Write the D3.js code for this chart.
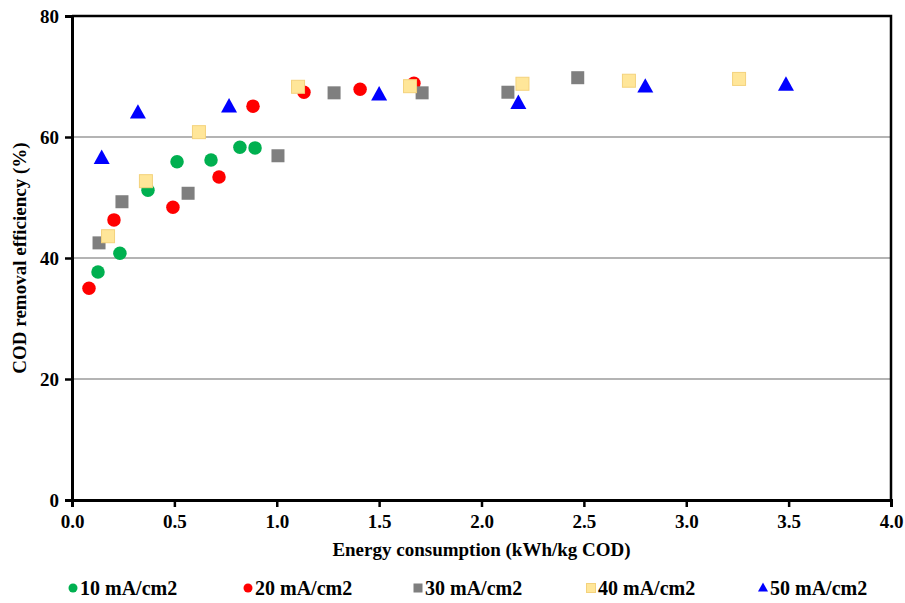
<!DOCTYPE html>
<html>
<head>
<meta charset="utf-8">
<script src="https://cdnjs.cloudflare.com/ajax/libs/d3/7.8.5/d3.min.js"></script>
<style>
  body { margin: 0; background: #fff; }
  text { font-family: "Liberation Serif", "Times New Roman", serif; font-weight: bold; fill: #000; }
</style>
</head>
<body>
<div id="chart"></div>
<script>
// Series data [energy kWh/kg COD, COD removal %]
var s10 = [[0.127, 37.7], [0.234, 40.8], [0.371, 51.2], [0.513, 55.9], [0.679, 56.2], [0.82, 58.3], [0.894, 58.2]];
var s20 = [[0.083, 35.0], [0.205, 46.3], [0.493, 48.4], [0.718, 53.4], [0.884, 65.1], [1.133, 67.4], [1.407, 67.9], [1.67, 68.9]];
var s30 = [[0.132, 42.5], [0.244, 49.3], [0.567, 50.7], [1.006, 56.9], [1.28, 67.3], [1.71, 67.3], [2.129, 67.4], [2.47, 69.8]];
var s40 = [[0.176, 43.6], [0.361, 52.7], [0.62, 60.8], [1.104, 68.3], [1.651, 68.4], [2.2, 68.8], [2.72, 69.3], [3.258, 69.6]];
var s50 = [[0.145, 56.5], [0.322, 64.0], [0.767, 65.0], [1.5, 67.0], [2.18, 65.6], [2.80, 68.3], [3.487, 68.6]];

var seriesNames = ['10 mA/cm2', '20 mA/cm2', '30 mA/cm2', '40 mA/cm2', '50 mA/cm2'];
var xTicks = [0, 0.5, 1, 1.5, 2, 2.5, 3, 3.5, 4];
var yTicks = [0, 20, 40, 60, 80];

var series = [
  { name: seriesNames[0], data: s10, shape: 'circle', fill: '#00b050', stroke: 'none' },
  { name: seriesNames[1], data: s20, shape: 'circle', fill: '#ff0000', stroke: 'none' },
  { name: seriesNames[2], data: s30, shape: 'square', fill: '#7f7f7f', stroke: 'none' },
  { name: seriesNames[3], data: s40, shape: 'square', fill: '#ffe699', stroke: '#f4d27c' },
  { name: seriesNames[4], data: s50, shape: 'triangle', fill: '#0000ff', stroke: 'none' }
];

var width = 905, height = 603;
var mLeft = 72, mRight = 891, mTop = 16, mBottom = 500;

var svg = d3.select('#chart').append('svg')
  .attr('width', width)
  .attr('height', height);

var x = d3.scaleLinear().domain([0, 4]).range([mLeft, mRight]);
var y = d3.scaleLinear().domain([0, 80]).range([mBottom, mTop]);

// gridlines
svg.append('g').selectAll('line')
  .data(yTicks.filter(function (d) { return d > 0 && d < 80; }))
  .enter().append('line')
  .attr('x1', mLeft).attr('x2', mRight)
  .attr('y1', function (d) { return y(d); })
  .attr('y2', function (d) { return y(d); })
  .attr('stroke', '#6b6b6b')
  .attr('stroke-width', 1.2);

// frame (top and right)
svg.append('path')
  .attr('d', 'M' + mLeft + ',' + mTop + 'H' + mRight + 'V' + mBottom)
  .attr('fill', 'none')
  .attr('stroke', '#000')
  .attr('stroke-width', 2.5);

// axes
var xAxis = d3.axisBottom(x).tickValues(xTicks).tickFormat(d3.format('.1f')).tickSize(7).tickPadding(8);
var yAxis = d3.axisLeft(y).tickValues(yTicks).tickSize(7).tickPadding(6);

var gx = svg.append('g').attr('transform', 'translate(0,' + mBottom + ')').call(xAxis);
var gy = svg.append('g').attr('transform', 'translate(' + mLeft + ',0)').call(yAxis);

[gx, gy].forEach(function (g) {
  g.select('.domain').attr('stroke', '#000').attr('stroke-width', 3);
  g.selectAll('.tick line').attr('stroke', '#000').attr('stroke-width', 2.5);
  g.selectAll('.tick text')
    .attr('font-family', '"Liberation Serif", serif')
    .attr('font-weight', 'bold')
    .attr('font-size', 19)
    .attr('fill', '#000');
});

// axis titles
svg.append('text')
  .attr('x', (mLeft + mRight) / 2)
  .attr('y', 556)
  .attr('text-anchor', 'middle')
  .attr('font-size', 19)
  .text('Energy consumption (kWh/kg COD)');

svg.append('text')
  .attr('transform', 'translate(26,' + ((mTop + mBottom) / 2) + ') rotate(-90)')
  .attr('text-anchor', 'middle')
  .attr('font-size', 19)
  .text('COD removal efficiency (%)');

function drawMarker(g, shape, size) {
  if (shape === 'circle') {
    return g.append('circle').attr('r', size / 2);
  } else if (shape === 'square') {
    return g.append('rect')
      .attr('x', -size / 2).attr('y', -size / 2)
      .attr('width', size).attr('height', size);
  }
  var h = size * 0.9;
  return g.append('path')
    .attr('d', 'M0,' + (-h * 0.6) + 'L' + (size / 2) + ',' + (h * 0.4) + 'L' + (-size / 2) + ',' + (h * 0.4) + 'Z');
}

// points
series.forEach(function (s) {
  var g = svg.append('g');
  g.selectAll('g')
    .data(s.data)
    .enter().append('g')
    .attr('transform', function (d) { return 'translate(' + x(d[0]) + ',' + y(d[1]) + ')'; })
    .each(function () {
      var sz = s.shape === 'circle' ? 13.5 : (s.shape === 'square' ? 13 : 16);
      drawMarker(d3.select(this), s.shape, sz)
        .attr('fill', s.fill)
        .attr('stroke', s.stroke)
        .attr('stroke-width', 1);
    });
});

// legend
var legendX = [73, 248, 418, 591, 763];
var legend = svg.append('g');
series.forEach(function (s, i) {
  var lg = legend.append('g').attr('transform', 'translate(' + legendX[i] + ',588)');
  var sz = s.shape === 'triangle' ? 10 : 9;
  drawMarker(lg, s.shape, sz)
    .attr('fill', s.fill)
    .attr('stroke', s.stroke)
    .attr('stroke-width', 1);
  lg.append('text')
    .attr('x', 7)
    .attr('y', 6.5)
    .attr('font-size', 20)
    .text(s.name);
});
</script>
</body>
</html>
